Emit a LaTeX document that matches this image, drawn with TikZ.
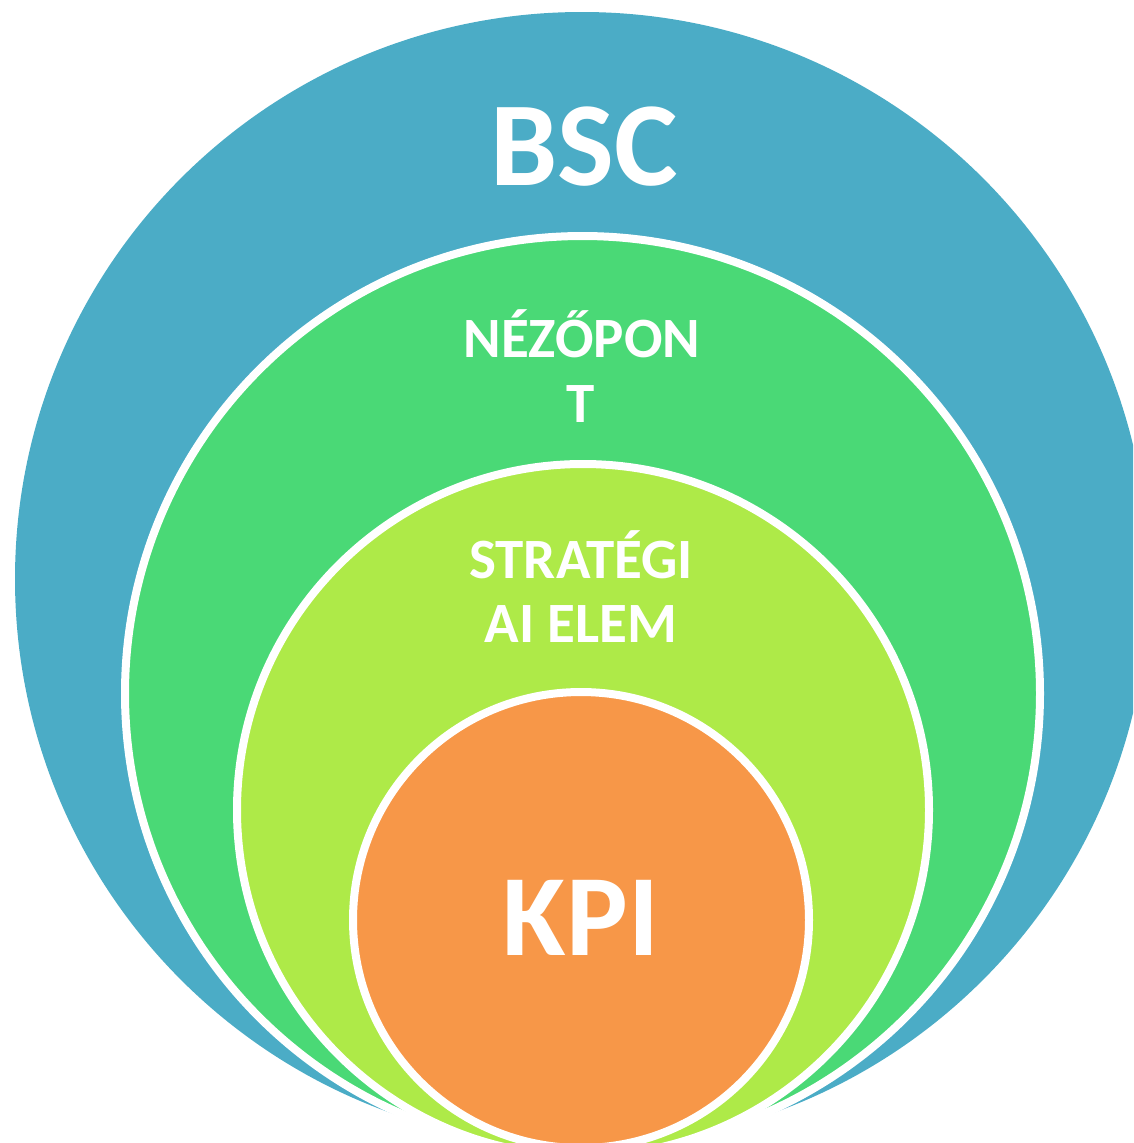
\documentclass[tikz,border=0pt]{standalone}
\usepackage{fontspec}
\setmainfont{Carlito}
\definecolor{bscblue}{HTML}{4BACC6}
\definecolor{nezgreen}{HTML}{4AD976}
\definecolor{stratlime}{HTML}{AEEA48}
\definecolor{kpiorange}{HTML}{F79748}
\tikzset{
  ring/.style={draw=white, line width=8pt},
  bigtxt/.style={text=white, font=\bfseries\fontsize{120}{120}\selectfont, inner sep=0pt, anchor=base},
  midtxt/.style={text=white, font=\bfseries\fontsize{57}{57}\selectfont, inner sep=0pt, anchor=base}
}
\begin{document}
\begin{tikzpicture}[x=1pt,y=-1pt]
\useasboundingbox (0,0) rectangle (1133,1143);
\begin{scope}
\clip (0,0) rectangle (1133,1143);
\fill[bscblue] (582,579) circle[radius=567];
\filldraw[fill=nezgreen, ring] (582.5,693.5) circle[radius=457.5];
\filldraw[fill=stratlime, ring] (583,810) circle[radius=346];
\filldraw[fill=kpiorange, ring] (581,920) circle[radius=228];
\end{scope}
\node[bigtxt] (bsc) at (584,185) {BSC};
\node[midtxt] (nez1) at (582,357) {NÉZŐPON};
\node[midtxt] (nez2) at (581,422) {T};
\node[midtxt] (str1) at (581,578) {STRATÉGI};
\node[midtxt] (str2) at (581,642) {AI ELEM};
\node[bigtxt, font=\bfseries\fontsize{116}{116}\selectfont] (kpi) at (581,955) {KPI};
\end{tikzpicture}
\end{document}
